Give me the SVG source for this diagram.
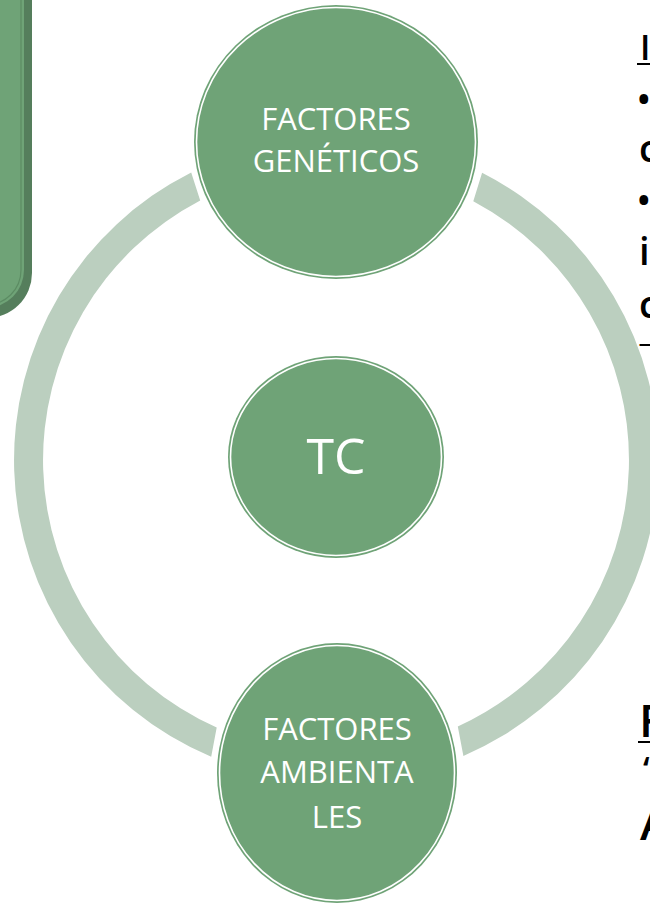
<svg xmlns="http://www.w3.org/2000/svg" width="650" height="907" viewBox="0 0 650 907">
<defs>
<style>
.node{fill:#6FA377;}
.gap{fill:none;stroke:#FFFFFF;stroke-width:1.6;}
.lbl{font-family:"Open Sans","Noto Sans",sans-serif;fill:#FFFFFF;text-anchor:middle;font-weight:500;}
.side{font-family:"Open Sans","Noto Sans",sans-serif;fill:#000000;font-weight:600;}
.ring{fill:#BBCFBF;}
</style>
<clipPath id="tclip"><rect x="600" y="330" width="60" height="16"/></clipPath>
</defs>
<rect width="650" height="907" fill="#FFFFFF"/>
<g id="left-box">
<rect x="-100" y="-50" width="132" height="368" rx="45" fill="#557E5C"/>
<rect x="-100" y="-50" width="124" height="358" rx="38" fill="#6FA377"/>
<rect x="-100" y="-50" width="121" height="355" rx="35" fill="none" stroke="#5C8C63" stroke-width="1.2"/>
</g>
<g id="connectors">
<path class="ring" d="M 191.2 172.4 A 322 322 0 0 0 211.2 756.8 L 216.7 727.6 A 293 293 0 0 1 200.2 200.4 Z"/>
<path class="ring" d="M 482.1 172.8 A 322 322 0 0 1 463.4 755.9 L 457.8 726.5 A 293 293 0 0 0 473.3 201.2 Z"/>
</g>
<g id="node-geneticos">
<ellipse class="node" cx="336" cy="142" rx="142" ry="137"/>
<ellipse class="gap" cx="336" cy="142" rx="139.5" ry="134.5"/>
<text class="lbl" x="336" y="130" font-size="31">FACTORES</text>
<text class="lbl" x="336" y="172" font-size="31">GENÉTICOS</text>
</g>
<g id="node-tc">
<ellipse class="node" cx="336" cy="457" rx="108" ry="101"/>
<ellipse class="gap" cx="336" cy="457" rx="105.5" ry="98.5"/>
<text class="lbl" x="336" y="474" font-size="50" font-weight="400">TC</text>
</g>
<g id="node-ambientales">
<ellipse class="node" cx="337" cy="773" rx="120" ry="130"/>
<ellipse class="gap" cx="337" cy="773" rx="117.5" ry="127.5"/>
<text class="lbl" x="337" y="740" font-size="31">FACTORES</text>
<text class="lbl" x="337" y="783" font-size="31">AMBIENTA</text>
<text class="lbl" x="337" y="828" font-size="31">LES</text>
</g>
<g id="side-text">
<text class="side" x="640" y="60" font-size="34">I</text>
<line x1="637" y1="64" x2="650" y2="64" stroke="#000" stroke-width="2"/>
<text class="side" x="637" y="112" font-size="36">•</text>
<text class="side" x="639" y="162" font-size="38">c</text>
<text class="side" x="637" y="213" font-size="36">•</text>
<text class="side" x="639" y="265" font-size="38">i</text>
<text class="side" x="639" y="318" font-size="38">c</text>
<text class="side" x="639" y="370" font-size="36" clip-path="url(#tclip)">T</text>
<text class="side" x="639" y="737" font-size="46" font-weight="bold">F</text>
<line x1="638" y1="742" x2="650" y2="742" stroke="#000" stroke-width="2"/>
<text class="side" x="643" y="782" font-size="34">‘</text>
<text class="side" x="640" y="840" font-size="46" font-weight="bold">A</text>
</g>
</svg>
